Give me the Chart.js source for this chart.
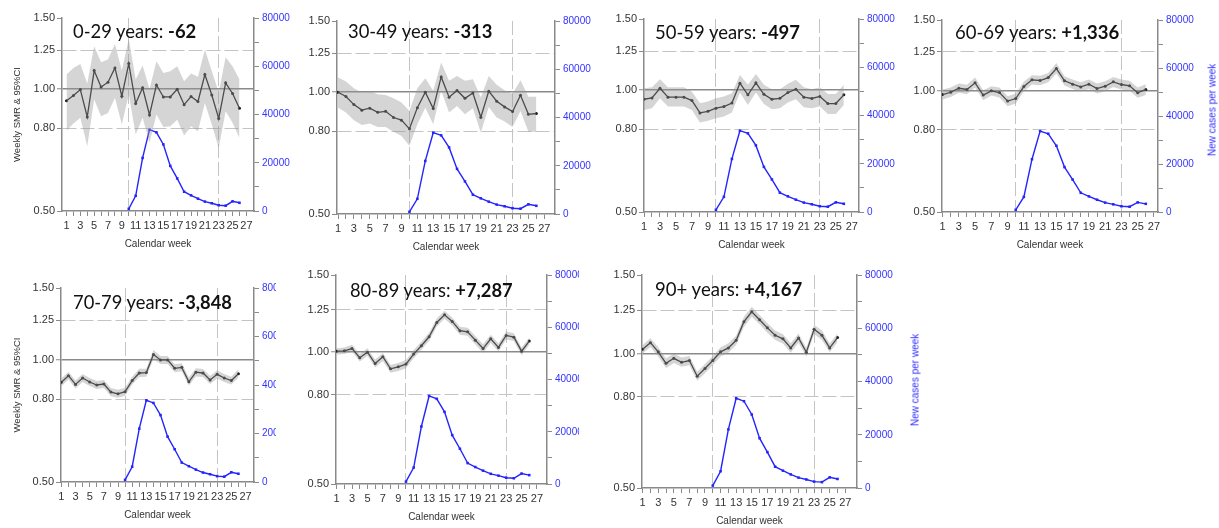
<!DOCTYPE html>
<html><head><meta charset="utf-8">
<script src="https://cdn.jsdelivr.net/npm/chart.js@4.4.1/dist/chart.umd.min.js"></script>
<style>
html,body{margin:0;padding:0;background:#fff;}
body{width:1219px;height:528px;position:relative;overflow:hidden;}
canvas{position:absolute;}
.ttl{position:absolute;white-space:nowrap;font-family:Lato,"Open Sans",sans-serif;color:#111;transform-origin:left center;}
.ttl b{font-weight:700;}
.rt{position:absolute;white-space:nowrap;font-family:"Liberation Sans",Arial,sans-serif;font-size:10px;color:#2a2aff;transform:translate(-50%,-50%) rotate(-90deg);}
</style></head><body>
<script>
// ---------- data ----------
const weeks = [1,2,3,4,5,6,7,8,9,10,11,12,13,14,15,16,17,18,19,20,21,22,23,24,25,26];
const caseWeeks = [10,11,12,13,14,15,16,17,18,19,20,21,22,23,24,25,26];
const newCases = [900,6300,22000,33700,32600,27600,18700,13500,8000,6500,5100,3900,3200,2400,2200,4000,3400];

const xTicks = [1,2,3,4,5,6,7,8,9,10,11,12,13,14,15,16,17,18,19,20,21,22,23,24,25,26,27];
const yTicks = [0.5,0.8,1.0,1.25,1.5];
const y2Ticks = [0,10000,20000,30000,40000,50000,60000,70000,80000];
const vLines = [10,23];

const ageGroups = ["0-29 years: ","30-49 years: ","50-59 years: ","60-69 years: ","70-79 years: ","80-89 years: ","90+ years: "];
const excess = ["-62","-313","-497","+1,336","-3,848","+7,287","+4,167"];

const smr1 = [0.937,0.965,0.998,0.854,1.112,1.013,1.041,1.129,0.961,1.157,0.922,1.008,0.864,1.025,0.957,0.957,1.0,0.916,0.959,0.932,1.087,0.968,0.846,1.037,0.976,0.897];
const hi1  = [1.087,1.129,1.155,1.033,1.277,1.166,1.184,1.294,1.112,1.332,1.057,1.144,1.002,1.173,1.097,1.108,1.14,1.047,1.093,1.073,1.253,1.108,0.983,1.2,1.14,1.057];
const lo1  = [0.79,0.823,0.85,0.723,0.943,0.858,0.874,0.952,0.818,0.97,0.773,0.85,0.737,0.866,0.806,0.81,0.841,0.768,0.81,0.787,0.925,0.818,0.716,0.882,0.826,0.758];

const smr2 = [1.0,0.976,0.932,0.903,0.913,0.892,0.897,0.866,0.853,0.812,0.916,1.0,0.911,1.091,0.972,1.01,0.966,0.996,0.867,1.006,0.95,0.92,0.896,0.983,0.882,0.886];
const hi2  = [1.087,1.063,1.023,0.998,1.008,0.989,0.985,0.966,0.943,0.899,1.023,1.083,1.008,1.184,1.067,1.097,1.067,1.077,0.97,1.097,1.043,1.011,0.992,1.071,0.974,0.974];
const lo2  = [0.916,0.891,0.853,0.83,0.837,0.821,0.821,0.799,0.78,0.737,0.833,0.916,0.833,1.008,0.891,0.925,0.882,0.913,0.795,0.92,0.866,0.846,0.821,0.899,0.799,0.799];

const smr3 = [0.95,0.957,1.011,0.961,0.961,0.961,0.943,0.879,0.887,0.903,0.911,0.93,1.041,0.974,1.043,0.977,0.95,0.955,0.987,1.006,0.961,0.954,0.965,0.927,0.927,0.974];
const hi3  = [1.011,1.017,1.065,1.017,1.017,1.017,0.992,0.929,0.938,0.955,0.965,0.983,1.091,1.031,1.097,1.031,1.006,1.006,1.037,1.061,1.017,1.006,1.017,0.979,0.979,1.031];
const lo3  = [0.894,0.903,0.955,0.911,0.911,0.911,0.894,0.832,0.84,0.853,0.861,0.881,0.987,0.92,0.987,0.925,0.898,0.903,0.932,0.95,0.908,0.903,0.911,0.874,0.874,0.92];

const smr4 = [0.979,0.992,1.015,1.008,1.047,0.976,1.0,0.99,0.943,0.957,1.025,1.065,1.061,1.079,1.136,1.059,1.039,1.023,1.039,1.013,1.027,1.053,1.037,1.029,0.989,1.008];
const hi4  = [1.008,1.019,1.043,1.035,1.079,1.004,1.027,1.019,0.97,0.985,1.055,1.094,1.09,1.108,1.173,1.087,1.067,1.051,1.067,1.043,1.057,1.083,1.067,1.059,1.019,1.039];
const lo4  = [0.952,0.966,0.989,0.981,1.019,0.948,0.974,0.963,0.916,0.93,0.998,1.037,1.033,1.051,1.104,1.031,1.011,0.996,1.011,0.985,0.998,1.023,1.008,1.0,0.961,0.977];

const smr5 = [0.879,0.913,0.869,0.901,0.881,0.866,0.871,0.832,0.824,0.834,0.888,0.927,0.929,1.029,0.998,0.998,0.952,0.957,0.882,0.931,0.927,0.891,0.92,0.901,0.888,0.923];
const hi5  = [0.899,0.934,0.889,0.922,0.901,0.886,0.891,0.851,0.843,0.853,0.908,0.95,0.95,1.056,1.021,1.021,0.974,0.979,0.903,0.952,0.948,0.911,0.941,0.922,0.908,0.947];
const lo5  = [0.86,0.893,0.849,0.881,0.861,0.847,0.851,0.813,0.806,0.815,0.868,0.906,0.908,1.004,0.976,0.976,0.931,0.936,0.863,0.909,0.906,0.871,0.899,0.881,0.868,0.903];

const smr6 = [1.005,1.007,1.019,0.971,1.0,0.942,0.976,0.916,0.926,0.939,0.99,1.034,1.084,1.169,1.217,1.175,1.119,1.113,1.065,1.019,1.073,1.025,1.092,1.082,1.005,1.06];
const hi6  = [1.021,1.025,1.039,0.99,1.021,0.962,0.996,0.935,0.945,0.959,1.011,1.056,1.107,1.194,1.243,1.2,1.143,1.137,1.088,1.043,1.095,1.047,1.115,1.105,1.025,1.08];
const lo6  = [0.988,0.99,1.002,0.952,0.981,0.923,0.955,0.897,0.906,0.919,0.969,1.012,1.061,1.145,1.192,1.151,1.095,1.09,1.043,0.996,1.05,1.004,1.069,1.06,0.984,1.039];

const smr7 = [1.023,1.058,1.009,0.951,0.976,0.956,0.965,0.89,0.926,0.965,1.009,1.03,1.071,1.179,1.241,1.191,1.142,1.099,1.079,1.03,1.084,1.007,1.134,1.099,1.03,1.086];
const hi7  = [1.046,1.082,1.033,0.975,1.0,0.98,0.988,0.911,0.948,0.988,1.033,1.055,1.097,1.21,1.274,1.22,1.169,1.126,1.105,1.055,1.11,1.03,1.161,1.126,1.053,1.11];
const lo7  = [1.0,1.035,0.985,0.929,0.953,0.934,0.942,0.869,0.904,0.942,0.985,1.005,1.046,1.149,1.21,1.163,1.114,1.073,1.053,1.005,1.058,0.985,1.106,1.073,1.007,1.062];

const smrSeries = [smr1,smr2,smr3,smr4,smr5,smr6,smr7];
const hiSeries  = [hi1,hi2,hi3,hi4,hi5,hi6,hi7];
const loSeries  = [lo1,lo2,lo3,lo4,lo5,lo6,lo7];

// ---------- layout (page px) ----------
const geom = [
  {L:62,  R:254,  T:18,  B:211, xmin:0.35, xmax:28.1,  wL:62, wR:40, yTitle:true},
  {L:337, R:555,  T:21,  B:214, xmin:0.87, xmax:28.35, wL:45, wR:40, yTitle:false},
  {L:644, R:859,  T:19,  B:212, xmin:1.0,  xmax:27.9,  wL:45, wR:40, yTitle:false},
  {L:942, R:1158, T:20,  B:212, xmin:0.93, xmax:27.5,  wL:45, wR:60, yTitle:false},
  {L:61,  R:254,  T:288, B:482, xmin:0.95, xmax:28.2,  wL:61, wR:22, yTitle:true},
  {L:336, R:547,  T:275, B:484, xmin:0.92, xmax:28.3,  wL:45, wR:32, yTitle:false},
  {L:642, R:857,  T:275, B:488, xmin:0.92, xmax:28.5,  wL:45, wR:60, yTitle:false}
];
const titleBox = [
  {x:72.7, w:123.3, cy:32}, {x:348.3, w:144.4, cy:32}, {x:655, w:145, cy:32.5}, {x:955, w:164.3, cy:33},
  {x:73.3, w:159, cy:303}, {x:350, w:162.7, cy:290.5}, {x:655, w:147.3, cy:289.5}
];
const rightTitles = [{x:1211.7, y:110}, {x:915, y:380}];

const FONT = "'Liberation Sans', Arial, sans-serif";
const PAD_T = 12, XH = 39;
const AXIS = '#8a8a8a';
const TITLE_FS = 18.5;

function makePanel(i){
  const g = geom[i];
  const cx = g.L - g.wL, cy = g.T - PAD_T;
  const cw = g.wL + (g.R - g.L) + g.wR;
  const ch = PAD_T + (g.B - g.T) + XH;
  const cv = document.createElement('canvas');
  cv.width = cw; cv.height = ch;
  cv.style.left = cx + 'px'; cv.style.top = cy + 'px';
  cv.style.width = cw + 'px'; cv.style.height = ch + 'px';
  document.body.appendChild(cv);
  const smr = smrSeries[i], hi = hiSeries[i], lo = loSeries[i];
  new Chart(cv, {
    type: 'line',
    data: { datasets: [
      {data: weeks.map((w,k)=>({x:w, y:lo[k]})), yAxisID:'y', borderWidth:0, borderColor:'rgba(0,0,0,0)', pointRadius:0, fill:false},
      {data: weeks.map((w,k)=>({x:w, y:hi[k]})), yAxisID:'y', borderWidth:0, borderColor:'rgba(0,0,0,0)', pointRadius:0, fill:'-1', backgroundColor:'rgba(150,150,150,0.4)'},
      {data: weeks.map((w,k)=>({x:w, y:smr[k]})), yAxisID:'y', borderColor:'#1a1a1a', borderWidth:1.3, pointRadius:1.5, pointBorderWidth:0, pointBackgroundColor:'#1a1a1a', fill:false},
      {data: caseWeeks.map((w,k)=>({x:w, y:newCases[k]})), yAxisID:'y2', borderColor:'#2424ff', borderWidth:1.4, pointRadius:1.8, pointStyle:'rect', pointBorderWidth:0, pointBackgroundColor:'#2424ff', fill:false}
    ]},
    options: {
      responsive:false, animation:false, events:[],
      layout:{padding:{top:PAD_T, left:0, right:0, bottom:0}},
      plugins:{legend:{display:false}, tooltip:{enabled:false}, title:{display:false}},
      elements:{line:{tension:0}},
      scales:{
        x:{type:'linear', position:'bottom', min:g.xmin, max:g.xmax,
          afterBuildTicks:s=>{ s.ticks = xTicks.map(v=>({value:v})); },
          afterFit:s=>{ s.height = XH; },
          ticks:{autoSkip:false, maxRotation:0, minRotation:0, padding:3, color:'#333', font:{family:FONT, size:11},
                 callback:v=> (v % 2 === 1 ? String(v) : '')},
          grid:{color:c=> (c.tick && vLines.includes(c.tick.value)) ? '#c4c4c4' : 'rgba(0,0,0,0)', lineWidth:1,
                tickLength:5, tickColor:AXIS, tickWidth:1},
          border:{display:true, color:AXIS, width:1.5, dash:[14,4]},
          title:{display:true, text:'Calendar week', color:'#333', font:{family:FONT, size:10}, padding:0}
        },
        y:{type:'logarithmic', position:'left', min:0.5, max:1.5,
          afterBuildTicks:s=>{ s.ticks = yTicks.map(v=>({value:v})); },
          afterFit:s=>{ s.width = g.wL; },
          ticks:{autoSkip:false, padding:2, color:'#333', font:{family:FONT, size:11}, callback:v=> Number(v).toFixed(2)},
          grid:{color:c=>{ if(!c.tick) return 'rgba(0,0,0,0)'; const v=c.tick.value;
                  if (v===1) return AXIS; if (v===0.8||v===1.25) return '#c4c4c4'; return 'rgba(0,0,0,0)'; },
                lineWidth:c=> (c.tick && c.tick.value===1) ? 1.5 : 1,
                tickLength:5, tickColor:AXIS, tickWidth:1},
          border:{display:true, color:AXIS, width:1.5, dash:c=> (c.tick && c.tick.value===1) ? [] : [14,4]},
          title:{display:g.yTitle, text:'Weekly SMR & 95%CI', color:'#333', font:{family:FONT, size:9.5}, padding:{top:12, bottom:0}}
        },
        y2:{type:'linear', position:'right', min:0, max:80000,
          afterBuildTicks:s=>{ s.ticks = y2Ticks.map(v=>({value:v})); },
          afterFit:s=>{ s.width = g.wR; },
          ticks:{autoSkip:false, padding:3, color:'#3333ff', font:{family:FONT, size:10}, callback:v=> (v % 20000 === 0 ? String(v) : '')},
          grid:{drawOnChartArea:false, tickLength:5, tickColor:AXIS, tickWidth:1},
          border:{display:true, color:AXIS, width:1.5}
        }
      }
    }
  });
}

Chart.defaults.font.family = FONT;
for (let i = 0; i < geom.length; i++) makePanel(i);

// panel titles (real text, mixed weight)
for (let i = 0; i < titleBox.length; i++){
  const tb = titleBox[i];
  const d = document.createElement('div');
  d.className = 'ttl';
  const a = document.createElement('span'); a.textContent = ageGroups[i];
  const b = document.createElement('b'); b.textContent = excess[i];
  d.appendChild(a); d.appendChild(b);
  d.style.fontSize = TITLE_FS + 'px'; d.style.lineHeight = TITLE_FS + 'px';
  d.style.left = tb.x + 'px';
  d.style.top = (tb.cy - 0.53 * TITLE_FS) + 'px';
  document.body.appendChild(d);
  const w = d.getBoundingClientRect().width;
  d.style.transform = 'scaleX(' + (tb.w / w) + ')';
}
for (const rt of rightTitles){
  const d = document.createElement('div');
  d.className = 'rt';
  d.textContent = 'New cases per week';
  d.style.left = rt.x + 'px'; d.style.top = rt.y + 'px';
  document.body.appendChild(d);
}
</script>
</body></html>
